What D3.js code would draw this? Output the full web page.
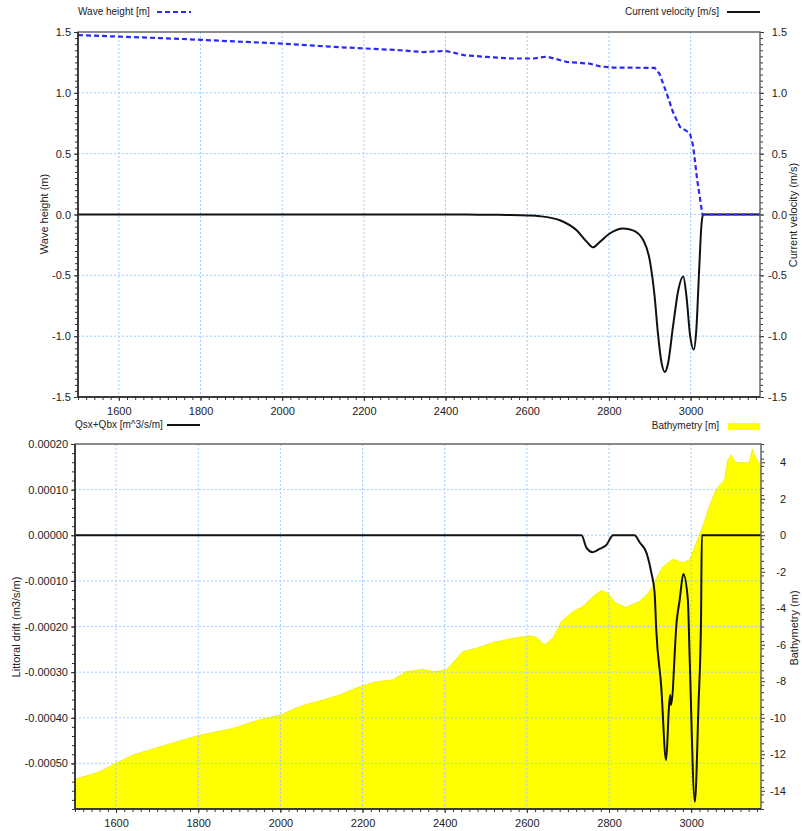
<!DOCTYPE html>
<html><head><meta charset="utf-8">
<script src="https://cdn.jsdelivr.net/npm/d3@7"></script>
<style>body{margin:0;background:#fff;} text{font-family:"Liberation Sans",Arial,sans-serif;}</style>
</head><body><svg id="c" width="802" height="831"></svg>
<script>
// ---------- data ----------
const xTicks = [1600,1800,2000,2200,2400,2600,2800,3000];
const topYTicks = [-1.5,-1.0,-0.5,0.0,0.5,1.0,1.5];
const driftTicks = [-0.0005,-0.0004,-0.0003,-0.0002,-0.0001,0,0.0001,0.0002];
const bathTicks = [-14,-12,-10,-8,-6,-4,-2,0,2,4];

const waveX = [1500,1600,1700,1800,1900,2000,2090,2140,2200,2290,2345,2400,2445,2500,2565,2615,2648,2697,2753,2778,2810,2912,2924,2941,2957,2974,2998,3006,3016,3029,3170];
const waveY = [1.475,1.462,1.45,1.436,1.42,1.405,1.385,1.375,1.365,1.35,1.335,1.345,1.31,1.295,1.282,1.282,1.298,1.254,1.24,1.217,1.208,1.205,1.156,1.0,0.84,0.72,0.67,0.57,0.29,0.0,0.0];

const currX = [1500,2450,2500,2550,2600,2631,2680,2721,2746,2761,2778,2802,2835,2859,2884,2900,2912,2920,2929,2937,2945,2957,2970,2982,2990,2999,3008,3014,3021,3027,3031,3170];
const currY = [0,0,-0.002,-0.004,-0.008,-0.014,-0.047,-0.13,-0.225,-0.27,-0.225,-0.156,-0.115,-0.13,-0.21,-0.375,-0.675,-0.975,-1.22,-1.295,-1.22,-0.92,-0.62,-0.51,-0.675,-1.0,-1.11,-0.95,-0.455,-0.07,0,0];

const driftX = [1500,2733,2745,2760,2777,2793,2810,2862,2875,2891,2903,2911,2915,2927,2939,2946,2949,2951,2965,2972,2981,2992,2996,3009,3018,3024,3026,3170];
const driftY = [0,0,-0.000027,-0.000037,-0.00003,-0.000022,0,0,-0.000016,-0.000038,-0.000082,-0.000126,-0.000207,-0.00033,-0.000493,-0.000376,-0.00035,-0.000372,-0.000186,-0.000142,-0.000085,-0.000142,-0.000258,-0.000584,-0.000368,-0.000186,0,0];

const bathX = [1500,1536,1561,1599,1642,1723,1800,1885,1942,2000,2047,2104,2144,2193,2234,2274,2307,2347,2371,2404,2444,2477,2517,2566,2607,2623,2643,2663,2684,2712,2736,2761,2781,2797,2817,2841,2874,2898,2910,2930,2955,2979,2996,3012,3028,3044,3060,3081,3089,3097,3109,3141,3149,3156,3170];
const bathY = [-13.36,-13.13,-12.95,-12.49,-12.03,-11.48,-10.97,-10.57,-10.15,-9.84,-9.38,-9.02,-8.75,-8.29,-8.02,-7.92,-7.47,-7.34,-7.47,-7.38,-6.37,-6.19,-5.88,-5.64,-5.51,-5.58,-6.0,-5.64,-4.73,-4.18,-3.9,-3.36,-3.03,-3.17,-3.72,-3.94,-3.63,-3.1,-2.6,-1.75,-1.31,-1.49,-1.35,-0.43,0.48,1.57,2.49,3.04,4.13,4.4,3.98,3.98,4.72,4.31,3.8];

// ---------- setup ----------
const svg = d3.select("#c");
const GRID = "#9cccff";
const T = {l:78, r:760, t:32, b:397};
const B = {l:75, r:761, t:444, b:809};

const xTop = d3.scaleLinear().domain([1500,3170]).range([T.l,T.r]);
const yTop = d3.scaleLinear().domain([-1.5,1.5]).range([T.b,T.t]);
const xBot = d3.scaleLinear().domain([1500,3170]).range([B.l,B.r]);
const yDrift = d3.scaleLinear().domain([-0.0006,0.0002]).range([B.b,B.t]);
const yBath = d3.scaleLinear().domain([-15,5]).range([B.b,B.t]);

function range(a,b,s){const o=[];for(let v=a;v<=b+1e-12;v+=s)o.push(+v.toFixed(8));return o;}

function grid(g, xs, ys, xTV, yTV, P){
  g.selectAll(null).data(xTV).enter().append("line")
    .attr("x1",d=>xs(d)).attr("x2",d=>xs(d)).attr("y1",P.t).attr("y2",P.b)
    .attr("stroke",GRID).attr("stroke-width",1).attr("stroke-dasharray","2,2");
  g.selectAll(null).data(yTV.filter(v=>ys(v)>P.t+2 && ys(v)<P.b-2)).enter().append("line")
    .attr("x1",P.l).attr("x2",P.r).attr("y1",d=>ys(d)).attr("y2",d=>ys(d))
    .attr("stroke",GRID).attr("stroke-width",1).attr("stroke-dasharray","2,2");
}

function axes(P, xs, yl, yr, yLT, yRT, fl, fr, xMinor, lMinor, rMinor, rightAnchorX){
  const styleAx = g => { g.select(".domain").remove(); g.selectAll("text").attr("fill","#222").style("font-size","11px"); g.selectAll("line").attr("stroke","#333"); };
  // minor ticks
  svg.append("g").attr("transform",`translate(0,${P.b})`)
    .call(d3.axisBottom(xs).tickValues(xMinor).tickSize(3).tickFormat("")).call(styleAx);
  svg.append("g").attr("transform",`translate(${P.l},0)`)
    .call(d3.axisLeft(yl).tickValues(lMinor).tickSize(3).tickFormat("")).call(styleAx);
  svg.append("g").attr("transform",`translate(${P.r},0)`)
    .call(d3.axisRight(yr).tickValues(rMinor).tickSize(3).tickFormat("")).call(styleAx);
  // major
  svg.append("g").attr("transform",`translate(0,${P.b})`)
    .call(d3.axisBottom(xs).tickValues(xTicks).tickSize(4).tickPadding(6).tickFormat(d=>d)).call(styleAx);
  svg.append("g").attr("transform",`translate(${P.l},0)`)
    .call(d3.axisLeft(yl).tickValues(yLT).tickSize(4).tickPadding(3).tickFormat(fl)).call(styleAx);
  const gr = svg.append("g").attr("transform",`translate(${P.r},0)`)
    .call(d3.axisRight(yr).tickValues(yRT).tickSize(4).tickPadding(8).tickFormat(fr)).call(styleAx);
  gr.selectAll("text").attr("text-anchor","end").attr("x", rightAnchorX - P.r);
  // frame
  svg.append("rect").attr("x",P.l).attr("y",P.t).attr("width",P.r-P.l).attr("height",P.b-P.t)
    .attr("fill","none").attr("stroke","#666").attr("stroke-width",1.5);
  svg.append("line").attr("x1",P.l).attr("x2",P.l).attr("y1",P.t).attr("y2",P.b).attr("stroke","#222").attr("stroke-width",1.5);
  svg.append("line").attr("x1",P.l).attr("x2",P.r).attr("y1",P.b).attr("y2",P.b).attr("stroke","#222").attr("stroke-width",1.5);
}

function vtitle(x,y,txt){
  svg.append("text").attr("transform",`translate(${x},${y}) rotate(-90)`).attr("text-anchor","middle")
    .attr("dominant-baseline","middle").style("font-size","11px").attr("fill","#222").text(txt);
}
function legText(x,y,txt,anchor){
  svg.append("text").attr("x",x).attr("y",y).attr("text-anchor",anchor||"start")
    .attr("dominant-baseline","middle").style("font-size","10px").attr("fill","#222").text(txt);
}

// ---------- top chart ----------
const gTop = svg.append("g");
grid(gTop, xTop, yTop, xTicks, topYTicks, T);

const currData = currX.map((x,i)=>[x,currY[i]]);
const waveData = waveX.map((x,i)=>[x,waveY[i]]);

svg.append("path").datum(currData)
  .attr("d", d3.line().x(d=>xTop(d[0])).y(d=>yTop(d[1])).curve(d3.curveMonotoneX))
  .attr("fill","none").attr("stroke","#111").attr("stroke-width",2);
svg.append("path").datum(waveData)
  .attr("d", d3.line().x(d=>xTop(d[0])).y(d=>yTop(d[1])))
  .attr("fill","none").attr("stroke","#2a2af5").attr("stroke-width",2.2).attr("stroke-dasharray","5,3");

axes(T, xTop, yTop, yTop, topYTicks, topYTicks, d=>d.toFixed(1), d=>d.toFixed(1),
  range(1500,3160,20), range(-1.5,1.5,0.05), range(-1.5,1.5,0.05), 787);

vtitle(45, 214, "Wave height (m)");
vtitle(794, 215, "Current velocity (m/s)");

legText(78, 12, "Wave height [m]");
svg.append("line").attr("x1",157).attr("x2",191).attr("y1",12).attr("y2",12)
  .attr("stroke","#2a2af5").attr("stroke-width",2).attr("stroke-dasharray","5,3");
legText(719, 12, "Current velocity  [m/s]", "end");
svg.append("line").attr("x1",727).attr("x2",760).attr("y1",12).attr("y2",12)
  .attr("stroke","#111").attr("stroke-width",2);

// ---------- bottom chart ----------
const bathData = bathX.map((x,i)=>[x,bathY[i]]);
const driftData = driftX.map((x,i)=>[x,driftY[i]]);

svg.append("path").datum(bathData)
  .attr("d", d3.area().x(d=>xBot(d[0])).y0(B.b).y1(d=>yBath(d[1])))
  .attr("fill","#ffff00").attr("stroke","#e6e600").attr("stroke-width",0.6);

const gBot = svg.append("g");
grid(gBot, xBot, yDrift, xTicks, driftTicks, B);

svg.append("path").datum(driftData)
  .attr("d", d3.line().x(d=>xBot(d[0])).y(d=>yDrift(d[1])).curve(d3.curveMonotoneX))
  .attr("fill","none").attr("stroke","#111").attr("stroke-width",2);

axes(B, xBot, yDrift, yBath, driftTicks, bathTicks, d=>d.toFixed(5), d=>d,
  range(1500,3160,20), range(-0.0006,0.0002,0.00002), range(-15,5,0.4), 786);

vtitle(17, 627, "Littoral drift (m3/s/m)");
vtitle(795, 628, "Bathymetry (m)");

legText(75, 425, "Qsx+Qbx [m^3/s/m]");
svg.append("line").attr("x1",167).attr("x2",200).attr("y1",425).attr("y2",425)
  .attr("stroke","#111").attr("stroke-width",2);
legText(719, 426, "Bathymetry [m]", "end");
svg.append("rect").attr("x",728).attr("y",423).attr("width",32).attr("height",7).attr("fill","#ffff00");
</script></body></html>
